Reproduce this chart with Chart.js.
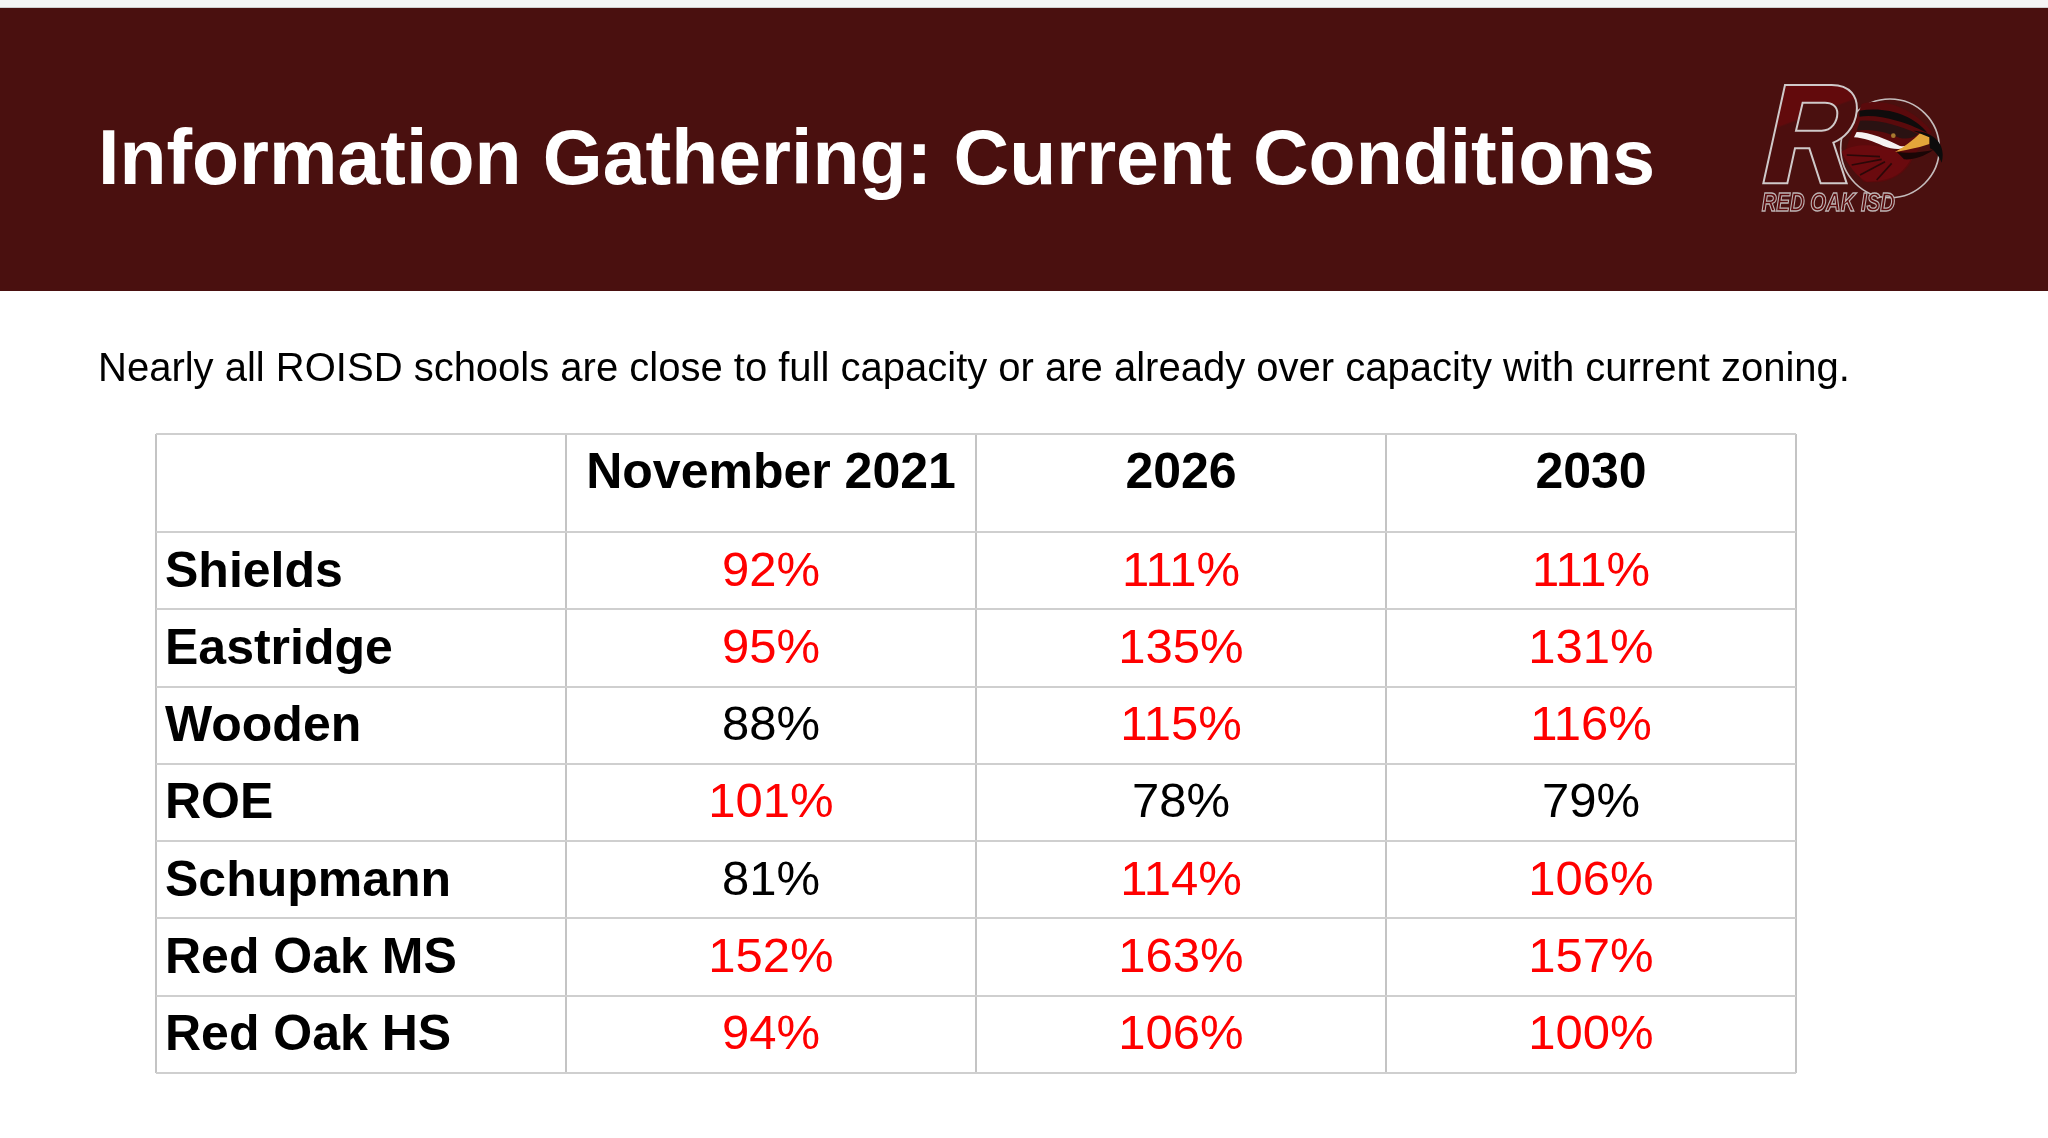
<!DOCTYPE html>
<html>
<head>
<meta charset="utf-8">
<script src="https://cdn.jsdelivr.net/npm/chart.js@4"></script>
<style>
html,body{margin:0;padding:0;background:#fff;width:2048px;height:1138px;overflow:hidden;font-family:"Liberation Sans",Arial,sans-serif}
#strip{position:absolute;left:0;top:0;width:2048px;height:7px;background:#f5f5f5;border-bottom:1px solid #cfcfcf}
#band{position:absolute;left:0;top:8px;width:2048px;height:283px;background:#4a100f}
#title{position:absolute;left:98px;top:119px;font-size:77px;line-height:77px;font-weight:700;color:#fff;white-space:nowrap;filter:blur(0.5px)}
#sub{position:absolute;left:98px;top:347px;font-size:40px;line-height:40px;color:#000;white-space:nowrap;filter:blur(0.5px)}
#logo{position:absolute;left:1700px;top:0;width:348px;height:300px;filter:blur(0.4px)}
canvas{position:absolute;left:0;top:0;filter:blur(0.5px)}
</style>
</head>
<body>
<div id="strip"></div>
<div id="band"></div>
<div id="title">Information Gathering: Current Conditions</div>
<div id="sub">Nearly all ROISD schools are close to full capacity or are already over capacity with current zoning.</div>
<svg id="logo" viewBox="0 0 1044 900">
  <defs>
    <linearGradient id="rg" x1="0" y1="0" x2="0.35" y2="1">
      <stop offset="0.42" stop-color="#620a0c"/><stop offset="0.44" stop-color="#4c0e0e"/>
    </linearGradient>
  </defs>
  <circle cx="570" cy="445" r="148" fill="none" stroke="#c4bcbc" stroke-width="5"/>
  <path d="M485 312 C560 290 650 335 695 395 L640 470 C620 525 560 555 490 545 L430 470 Z" fill="#5a0a0c"/>
  <path d="M255 255 H395 C450 255 475 290 470 335 C465 385 430 415 400 428 L440 550 H362 L328 445 H285 L262 550 H190 Z M308 308 L288 392 H365 C395 392 412 365 412 340 C412 318 395 308 375 308 Z" fill="url(#rg)" fill-rule="evenodd" stroke="#cfc9c9" stroke-width="6"/>
  <path d="M425 455 C470 425 540 435 590 455 C625 468 640 470 625 490 C600 530 560 545 500 545 C470 530 440 490 425 455 Z" fill="#6a0a0e"/>
  <path d="M478 332 C560 318 640 345 682 398 C640 380 630 372 590 362 C550 350 510 345 478 350 Z" fill="#0f0c0c"/>
  <path d="M480 362 C540 358 600 378 655 402 C640 415 620 418 600 414 C560 398 520 385 470 392 Z" fill="#2a1212"/>
  <path d="M470 396 C510 396 560 418 600 438 C620 442 635 432 645 424 C625 452 585 452 550 438 C520 424 490 414 462 412 Z" fill="#f6f2f2"/>
  <g stroke="#2a0808" stroke-width="5" fill="none">
    <path d="M440 465 L540 470"/><path d="M455 495 L545 478"/><path d="M480 525 L555 485"/><path d="M530 540 L575 490"/>
  </g>
  <path d="M660 400 L690 408 L688 432 C650 445 610 452 585 456 C615 440 640 420 660 400 Z" fill="#e3a63a"/>
  <path d="M640 392 C700 395 740 430 725 488 C715 465 702 450 690 445 L688 412 Z" fill="#0c0c0c"/>
  <path d="M590 455 C630 462 670 455 700 450 C670 470 640 480 612 478 Z" fill="#1a0606"/>
  <circle cx="580" cy="407" r="7" fill="#a87a30"/>
  <text x="185" y="632" font-family="Liberation Sans" font-size="76" font-weight="700" font-style="italic" fill="#5c0b0c" stroke="#bdb5b5" stroke-width="4" textLength="400" lengthAdjust="spacingAndGlyphs">RED OAK ISD</text>
</svg>
<canvas id="c" width="2048" height="1138"></canvas>
<script>
const schools = ["Shields","Eastridge","Wooden","ROE","Schupmann","Red Oak MS","Red Oak HS"];
const periods = ["November 2021","2026","2030"];
const nov2021 = [92,95,88,101,81,152,94];
const y2026 = [111,135,115,78,114,163,106];
const y2030 = [111,131,116,79,106,157,100];
const seriesList = [nov2021,y2026,y2030];
const overLimit = 90;
const headerRowUnits = 1.268;
const FONT = '"Liberation Sans", Arial, sans-serif';

const tablePlugin = {
  id:'tableText',
  afterDatasetsDraw(chart){
    const ctx = chart.ctx, xs = chart.scales.x, ys = chart.scales.y;
    ctx.save();
    ctx.textBaseline = 'alphabetic';
    ctx.textAlign = 'center';
    ctx.font = '700 50px '+FONT;
    ctx.fillStyle = '#000';
    const headY = ys.getPixelForValue(-headerRowUnits/2) + 5;
    periods.forEach((p,i)=>ctx.fillText(p, xs.getPixelForValue(i+0.5), headY));
    ctx.textAlign = 'left';
    schools.forEach((s,i)=>ctx.fillText(s, xs.getPixelForValue(-1)+9, ys.getPixelForValue(i+0.5)+16));
    ctx.textAlign = 'center';
    ctx.font = '49px '+FONT;
    chart.data.datasets.forEach((ds,d)=>{
      chart.getDatasetMeta(d).data.forEach((pt,i)=>{
        const v = seriesList[d][i];
        ctx.fillStyle = v > overLimit ? '#ff0000' : '#000000';
        ctx.fillText(v+'%', pt.x, pt.y+15);
      });
    });
    ctx.restore();
  }
};

new Chart(document.getElementById('c'),{
  type:'scatter',
  data:{datasets:seriesList.map((vals,d)=>({
    label:periods[d],
    data:vals.map((v,i)=>({x:d+0.5,y:i+0.5})),
    pointRadius:0,
    showLine:false
  }))},
  plugins:[tablePlugin],
  options:{
    responsive:false,
    animation:false,
    devicePixelRatio:1,
    layout:{padding:{left:156,right:252,top:434,bottom:65}},
    plugins:{legend:{display:false},title:{display:false},tooltip:{enabled:false}},
    scales:{
      x:{type:'linear',min:-1,max:3,
        afterBuildTicks(s){s.ticks=[-1,0,1,2,3].map(v=>({value:v}));},
        ticks:{display:false},
        border:{display:false},
        grid:{color:'#c4c4c4',lineWidth:2,drawTicks:false}},
      y:{type:'linear',reverse:true,min:-headerRowUnits,max:7,
        afterBuildTicks(s){s.ticks=[-headerRowUnits,0,1,2,3,4,5,6,7].map(v=>({value:v}));},
        ticks:{display:false},
        border:{display:false},
        grid:{color:'#cfcfcf',lineWidth:2,drawTicks:false}}
    }
  }
});
</script>
</body>
</html>
